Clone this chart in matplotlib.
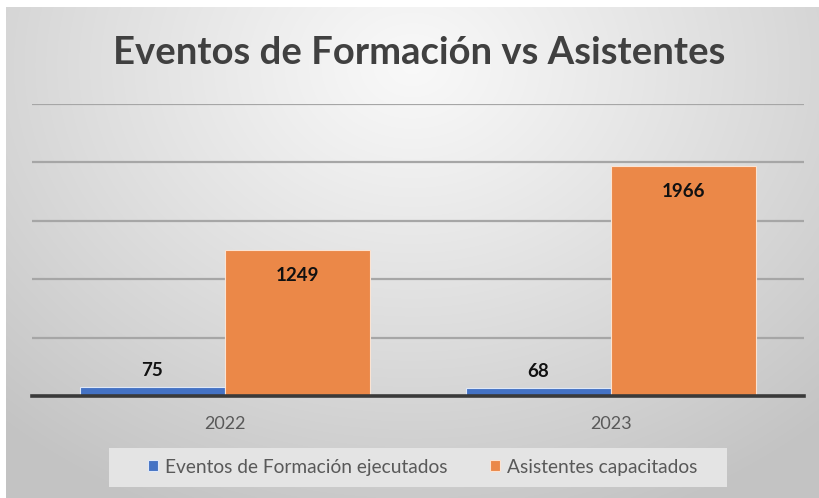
import numpy as np
import matplotlib
matplotlib.use("Agg")
import matplotlib.pyplot as plt
from matplotlib.patches import Rectangle

categories = ["2022", "2023"]
series_names = ["Eventos de Formación ejecutados", "Asistentes capacitados"]
eventos = [75, 68]
asistentes = [1249, 1966]
title = "Eventos de Formación vs Asistentes"

W, H = 819, 498
fig = plt.figure(figsize=(W / 100, H / 100), dpi=100)
fig.patch.set_facecolor("white")

# gradient background
bg = fig.add_axes([6 / W, 0, 1 - 6 / W, 1 - 7 / H], zorder=0)
yy, xx = np.mgrid[0:1:300j, 0:1:500j]
d = np.sqrt(((xx - 0.5) / 0.75) ** 2 + ((yy - 0.12) / 1.0) ** 2)
d = np.clip(d, 0, 1)
v = 0.975 - 0.21 * d ** 1.1
bg.imshow(np.dstack([v, v, v]), aspect="auto", extent=[0, 1, 1, 0], interpolation="bicubic")
bg.set_axis_off()

ax = fig.add_axes([32 / W, 1 - 396 / H, (804 - 32) / W, (396 - 104) / H], zorder=2)
ax.set_facecolor("none")
x = np.arange(len(categories))
w = 145 / 385
blue = "#4472C4"
orange = "#EB8848"
b1 = ax.bar(x - w / 2, eventos, w, color=blue, edgecolor="#dfe8f7", linewidth=0.8, zorder=3,
            label=series_names[0])
b2 = ax.bar(x + w / 2, asistentes, w, color=orange, edgecolor="#fbe3d2", linewidth=0.8, zorder=3,
            label=series_names[1])

ax.set_xlim(-0.5, 1.5)
ax.set_ylim(0, 2500)
ax.set_yticks(np.arange(0, 2501, 500))
ax.yaxis.grid(True, color="#a6a6a6", linewidth=1.6, zorder=1)
ax.set_axisbelow(True)
for s in ["top", "right", "left"]:
    ax.spines[s].set_visible(False)
ax.spines["bottom"].set_color("#3a3a3a")
ax.spines["bottom"].set_linewidth(2.6)
ax.spines["bottom"].set_zorder(4)
ax.tick_params(axis="y", left=False, labelleft=False)
ax.tick_params(axis="x", bottom=False, pad=11)
ax.set_xticks(x)
ax.set_xticklabels(categories, fontsize=13, color="#595959", family="Lato")

for rect, val in zip(b1, eventos):
    ax.annotate(str(val), (rect.get_x() + rect.get_width() / 2, val), xytext=(0, 6),
                textcoords="offset points", ha="center", va="bottom",
                fontsize=13.5, fontweight="bold", color="#111111", family="Lato")
for rect, val in zip(b2, asistentes):
    ax.annotate(str(val), (rect.get_x() + rect.get_width() / 2, val), xytext=(0, -12),
                textcoords="offset points", ha="center", va="top",
                fontsize=13.5, fontweight="bold", color="#111111", family="Lato")

fig.text(419 / W, 1 - 53 / H, title, ha="center", va="center", fontsize=27.5,
         fontweight="bold", color="#404040", family="Lato")

# legend box
fig.patches.append(Rectangle((109 / W, 1 - 487 / H), (727 - 109) / W, (487 - 448) / H,
                             transform=fig.transFigure, facecolor="#e4e4e4",
                             edgecolor="none", zorder=1))
leg = fig.legend(loc="center", bbox_to_anchor=(423 / W, 1 - 467 / H), ncol=2, frameon=False,
                 prop={"family": "Lato", "size": 13.8}, handlelength=0.5, handleheight=0.5,
                 handletextpad=0.4, columnspacing=2.2, borderaxespad=0)
for t in leg.get_texts():
    t.set_color("#595959")
leg.set_zorder(5)

fig.savefig("out.png", dpi=100)
